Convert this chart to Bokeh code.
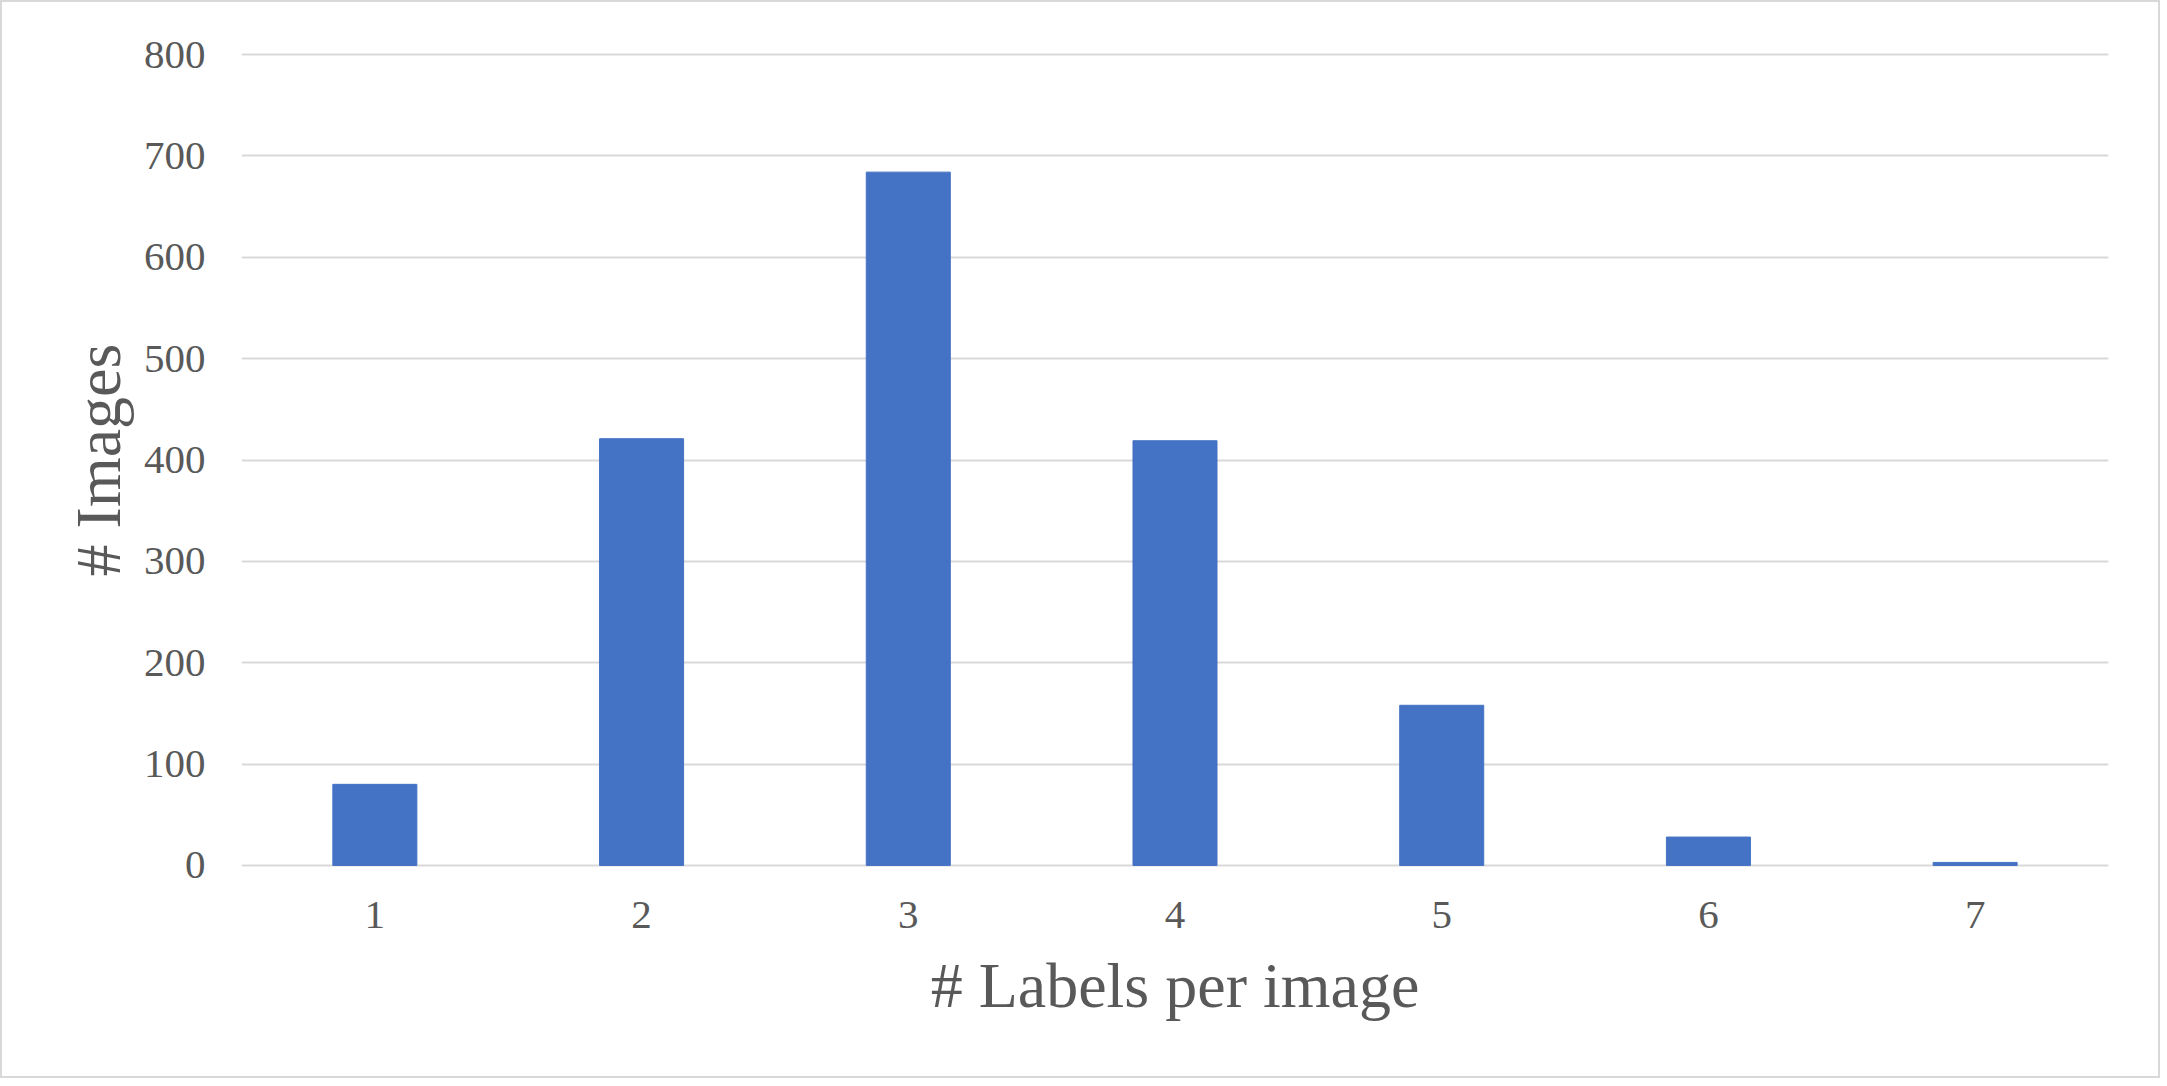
from bokeh.plotting import figure
from bokeh.models import Range1d, ColumnDataSource
from bokeh.embed import file_html
from bokeh.resources import INLINE

categories = ["1", "2", "3", "4", "5", "6", "7"]
images = [80, 421, 684, 419, 158, 28, 3]
y_ticks = [0, 100, 200, 300, 400, 500, 600, 700, 800]

TEXT = "#595959"
GRID = "#d9d9d9"
BAR = "#4472C4"
FONT = "Liberation Serif"

src = ColumnDataSource(dict(cat=categories, val=images))

p = figure(
    x_range=categories,
    y_range=Range1d(-4, 804),
    width=2156, height=1074,
    frame_width=1867, frame_height=819,
    min_border_left=239, min_border_right=50,
    min_border_top=48, min_border_bottom=207,
    output_backend="svg", toolbar_location=None,
    styles={"border": "2px solid #d9d9d9"},
)
p.vbar(x="cat", top="val", bottom=0, width=0.315, source=src,
       fill_color=BAR, line_color=BAR, line_width=1)

p.outline_line_color = None
p.background_fill_color = "white"
p.border_fill_color = "white"

p.xgrid.grid_line_color = None
p.ygrid.grid_line_color = GRID
p.ygrid.grid_line_width = 2
p.yaxis.ticker = y_ticks

for ax in (p.xaxis[0], p.yaxis[0]):
    ax.axis_line_color = None
    ax.major_tick_line_color = None
    ax.minor_tick_line_color = None
    ax.major_label_text_font = FONT
    ax.major_label_text_font_size = "41px"
    ax.major_label_text_color = TEXT
    ax.axis_label_text_font = FONT
    ax.axis_label_text_font_size = "64px"
    ax.axis_label_text_font_style = "normal"
    ax.axis_label_text_color = TEXT

p.xaxis.axis_label = "# Labels per image"
p.yaxis.axis_label = "# Images"
p.xaxis.major_label_standoff = 26
p.yaxis.major_label_standoff = 30
p.xaxis.axis_label_standoff = 19
p.yaxis.axis_label_standoff = 7

open("out.html", "w").write(file_html(p, INLINE))
